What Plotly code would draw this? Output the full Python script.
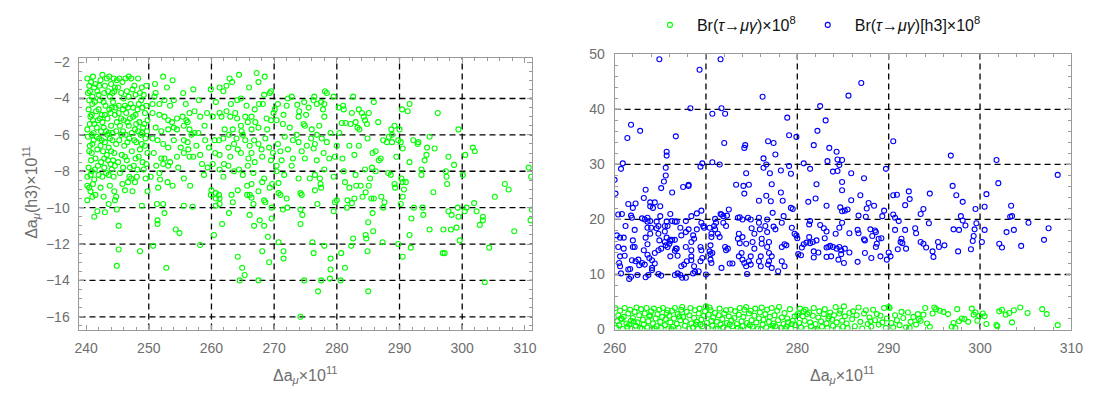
import plotly.graph_objects as go

# ---------------- data ----------------
# Left panel: Delta a_mu x 1e11  vs  Delta a_mu(h3) x 1e11
left_pts_a = [
    (240.2,-2.9),(240.5,-3.3),(240.8,-3.1),(241.1,-2.8),(241.5,-3.2),(241.8,-3.6),(242.3,-3.0),(242.6,-2.7),
    (243.0,-3.3),(243.3,-2.9),(243.7,-2.8),(244.0,-3.2),(244.4,-2.9),(244.6,-3.4),(244.9,-3.0),(240.3,-3.7),
    (241.0,-3.9),(242.0,-3.8),(242.9,-3.7),(243.8,-3.9),(244.5,-3.6),
    (240.4,-4.6),(240.7,-5.0),(241.0,-4.3),(241.3,-5.4),(241.6,-4.7),(241.9,-5.2),(242.2,-4.1),(242.5,-4.9),
    (242.8,-5.6),(243.1,-4.4),(243.4,-5.1),(243.7,-4.6),(244.0,-5.5),(244.3,-4.2),(244.6,-4.9),(244.9,-5.3),
    (240.2,-5.7),(241.2,-5.9),(242.4,-5.8),(243.6,-5.9),(244.8,-5.8),(240.9,-4.9),(242.0,-4.6),(243.9,-4.8),
    (240.3,-6.1),(240.6,-6.6),(240.9,-7.0),(241.2,-6.3),(241.5,-7.3),(241.8,-6.8),(242.1,-6.2),(242.4,-7.5),
    (242.7,-6.9),(243.0,-6.4),(243.3,-7.1),(243.6,-6.7),(243.9,-7.6),(244.2,-6.3),(244.5,-7.0),(244.8,-6.5),
    (240.4,-7.8),(241.4,-7.9),(242.9,-7.8),(244.1,-7.9),(240.8,-7.4),(242.3,-6.6),(243.8,-6.2),(244.6,-7.7),
    (240.2,-8.3),(240.9,-8.0),(242.0,-8.2),(243.2,-8.1),(244.4,-8.3),(241.3,-8.45),
    (245.3,-2.9),(245.8,-3.1),(246.3,-2.9),(246.8,-2.8),(247.2,-2.9),(247.7,-3.3),(248.3,-2.9),(245.6,-3.7),
    (246.5,-3.6),(247.4,-3.5),(248.6,-3.7),(249.2,-3.8),(249.6,-3.3),
    (245.2,-4.4),(245.6,-5.1),(246.0,-4.0),(246.4,-4.8),(246.8,-5.5),(247.1,-4.3),(247.5,-5.0),(247.8,-5.7),
    (248.2,-4.6),(248.5,-5.3),(248.8,-4.1),(249.1,-5.6),(249.4,-4.8),(249.8,-5.2),(245.9,-5.8),(246.6,-5.3),
    (247.3,-5.9),(248.0,-5.4),(248.9,-5.9),(249.6,-4.4),(245.4,-5.5),(246.2,-4.4),(247.9,-4.9),(249.3,-5.4),
    (245.3,-6.3),(245.7,-7.1),(246.1,-6.6),(246.5,-7.4),(246.9,-6.2),(247.3,-6.9),(247.6,-7.7),(248.0,-6.4),
    (248.4,-7.2),(248.7,-6.0),(249.0,-7.5),(249.4,-6.6),(249.8,-7.0),(245.9,-7.8),(247.0,-7.8),(248.2,-7.9),
    (249.2,-7.9),(246.3,-6.0),(245.4,-8.1),(246.9,-8.3),(249.5,-8.4),
    (240.6,-3.6),(241.3,-3.4),(242.1,-3.3),(242.8,-4.2),(243.5,-3.6),(244.2,-3.7),(240.5,-4.1),(241.4,-4.2),
    (241.7,-5.6),(242.6,-5.3),(243.2,-5.8),(243.0,-4.9),(244.1,-4.5),(244.7,-4.5),(240.6,-5.4),(241.1,-5.2),
    (240.5,-6.9),(241.0,-6.5),(241.7,-6.1),(242.5,-6.3),(242.9,-7.3),(243.5,-7.4),(244.0,-6.9),(244.3,-7.4),
    (241.9,-7.7),(240.7,-8.2),(242.6,-8.3),(243.6,-8.2),(245.1,-3.4),(245.9,-4.6),(246.7,-4.5),(247.5,-4.5),
    (248.4,-4.3),(249.0,-4.5),(246.0,-5.2),(247.0,-5.1),(248.3,-5.8),(249.7,-5.8),(245.6,-6.0),(246.6,-6.4),
    (247.7,-6.3),(248.9,-6.5),(249.5,-6.2),(246.2,-7.2),(247.9,-7.3),(248.6,-6.8),(249.6,-7.6),(245.1,-7.5),
    (248.1,-8.3),(247.2,-8.4),(246.8,-3.9),(247.9,-3.8),(245.2,-4.8),(248.9,-3.4),(244.2,-5.9),(242.2,-5.1),
    (240.9,-6.0),(243.4,-6.0),
]
left_pts_b = [
    (251.0,-3.2),(252.3,-2.8),(251.1,-3.7),(252.5,-4.1),(252.9,-3.4),(254.0,-4.1),(255.5,-3.7),(257.1,-3.5),
    (250.6,-4.3),(251.7,-4.3),(253.4,-4.4),
    (250.6,-4.8),(251.7,-4.9),(252.5,-5.0),(253.1,-5.2),(253.7,-5.3),(254.5,-5.1),(255.4,-5.0),(256.0,-5.2),
    (256.5,-4.8),(257.3,-4.7),(258.2,-5.0),(254.5,-5.7),(255.6,-5.5),(256.5,-5.7),(254.0,-5.6),(253.1,-5.7),
    (251.1,-5.6),(252.0,-5.8),(259.3,-4.8),(256.2,-5.3),
    (250.6,-6.2),(251.4,-6.3),(252.3,-6.5),(253.1,-6.7),(254.0,-6.3),(255.6,-6.3),(256.2,-6.4),(256.8,-6.0),
    (257.3,-5.9),(255.1,-6.7),(256.3,-6.8),(257.9,-5.9),
    (250.8,-7.0),(252.0,-7.3),(252.3,-7.6),(253.4,-7.5),(254.5,-7.2),(255.6,-7.0),(256.5,-7.2),(257.1,-7.2),
    (253.1,-7.7),(258.5,-7.6),(252.5,-7.3),(259.0,-6.3),
    (250.3,-8.3),(251.7,-8.1),(251.8,-8.45),(255.6,-8.4),(258.8,-8.2),
    (262.9,-2.9),(264.4,-2.7),(261.3,-3.4),(261.9,-3.6),(262.4,-3.3),(263.3,-3.1),(264.1,-4.1),(264.7,-4.0),
    (260.7,-4.2),(259.9,-3.5),(267.2,-2.6),(267.5,-3.1),(268.5,-2.8),(268.4,-3.8),(269.3,-3.7),(269.5,-3.6),
    (260.2,-5.0),(261.3,-4.8),(261.6,-5.0),(262.4,-4.7),(263.0,-5.0),(263.8,-4.8),(264.1,-5.1),(264.7,-5.5),
    (265.4,-5.0),(265.8,-5.3),(266.4,-5.0),(266.9,-4.6),(267.6,-4.3),(268.2,-4.3),(268.8,-5.1),(269.5,-5.2),
    (269.9,-4.8),(262.1,-5.7),(263.4,-5.7),(264.8,-5.8),(266.4,-5.7),(267.5,-5.6),(268.9,-5.7),
    (260.5,-6.3),(261.2,-6.3),(261.9,-6.2),(262.7,-6.7),(263.6,-6.5),(264.2,-6.8),(265.0,-6.0),(265.4,-6.3),
    (266.1,-6.6),(266.8,-6.3),(267.5,-6.5),(268.0,-6.8),(268.6,-6.2),(269.2,-6.7),(269.8,-7.0),(261.3,-7.1),
    (263.0,-7.2),(264.7,-7.0),(266.4,-7.0),(268.1,-7.2),(269.5,-7.4),(260.6,-7.0),
    (260.2,-7.6),(261.3,-7.9),(261.9,-8.3),(262.7,-7.7),(263.6,-8.0),(264.4,-7.9),(265.0,-8.2),(265.8,-7.7),
    (266.7,-8.1),(268.4,-8.4),
    (250.9,-3.9),(253.8,-3.0),(255.9,-4.3),(258.0,-4.1),(258.9,-5.5),(259.6,-6.7),(257.6,-6.6),(254.7,-7.8),
    (251.2,-7.7),(258.2,-7.1),(259.4,-7.8),(265.6,-4.4),(263.1,-4.3),(266.0,-3.4),(262.0,-7.6),(266.9,-7.5),
    (265.9,-7.3),(267.0,-5.3),(264.0,-6.2),(262.8,-6.0),
]
left_pts_c = [
    (272.2,-4.0),(272.8,-3.9),(272.0,-4.4),(273.7,-4.35),(270.1,-4.6),(270.6,-4.3),(274.8,-4.2),(276.3,-4.1),
    (276.8,-4.3),(277.5,-4.2),(278.0,-4.3),(275.5,-4.5),(276.4,-3.9),(275.1,-4.9),(277.8,-4.6),(278.0,-5.0),
    (279.5,-3.9),(280.3,-4.5),(281.0,-4.4),(278.1,-3.6),(278.4,-3.7),
    (270.4,-5.2),(271.4,-5.4),(272.5,-5.6),(273.9,-5.0),(273.6,-6.0),(274.7,-5.4),(274.9,-5.5),(276.0,-5.7),
    (276.8,-6.0),(275.9,-6.2),(277.6,-6.2),(278.4,-6.4),(276.5,-6.5),(273.9,-6.4),(273.0,-6.3),(271.7,-6.1),
    (270.6,-6.5),(272.2,-6.8),(274.4,-6.9),(276.3,-6.75),(277.9,-7.0),(274.9,-7.3),(273.0,-7.3),(271.2,-7.4),
    (270.4,-7.7),(276.8,-7.4),(278.8,-7.3),(279.7,-7.2),
    (270.4,-8.0),(271.6,-8.2),(273.9,-8.4),(275.7,-8.4),(276.5,-8.2),(277.3,-8.4),(281.1,-8.0),(285.3,-8.4),
    (286.2,-8.0),
    (281.1,-4.6),(281.4,-5.35),(282.2,-5.4),(283.0,-5.3),(283.3,-5.6),(283.6,-5.7),(284.3,-5.0),(284.5,-5.2),
    (284.8,-5.4),(285.1,-4.8),(284.0,-4.8),(283.5,-4.6),(282.4,-4.8),(280.8,-5.35),(286.6,-5.3),(287.4,-6.3),
    (288.3,-6.1),(288.8,-6.0),(288.0,-6.4),(288.8,-6.4),(289.2,-5.5),(288.7,-5.7),(286.2,-6.9),(287.0,-7.3),
    (286.7,-7.4),(288.6,-8.2),(288.2,-8.1),(285.6,-7.8),
    (271.0,-6.9),(272.8,-7.7),(275.2,-6.6),(277.2,-5.5),(279.0,-5.9),(280.0,-6.6),(280.9,-7.3),(282.0,-6.6),
    (282.8,-7.1),(283.5,-6.6),(284.5,-7.9),(283.0,-8.2),(284.9,-6.2),(285.7,-7.0),(279.5,-8.3),(278.0,-7.9),
    (271.5,-4.9),(274.0,-4.7),(282.6,-3.9),(285.9,-4.2),(289.5,-7.2),(280.4,-5.9),
    (290.4,-4.6),(291.3,-4.7),(291.6,-4.3),(290.2,-6.4),(290.5,-6.75),(291.6,-7.5),(290.3,-8.4),(290.0,-5.7),
    (289.8,-6.3),
]
left_pts_d = [
    (296.1,-4.8),(294.8,-6.1),(299.4,-5.7),(292.2,-6.3),(293.0,-6.4),(292.9,-6.5),(294.4,-6.7),(295.6,-6.75),
    (294.3,-7.1),(294.0,-7.4),(297.8,-7.2),(300.5,-7.1),(301.7,-6.7),(302.0,-6.9),(298.7,-7.65),(293.5,-7.9),
    (293.5,-8.2),(297.4,-8.0),(297.5,-8.3),(300.1,-8.2),(310.6,-7.8),(311.0,-8.3),
]
left_pts_e = [
    (240.2,-8.8),(240.7,-9.1),(240.2,-9.6),(241.0,-9.4),(241.5,-9.3),(241.8,-10.2),(243.0,-10.25),(241.3,-10.5),
    (243.6,-9.8),(244.6,-9.6),(244.9,-10.1),(245.2,-11.0),(245.2,-12.3),(244.9,-13.2),(248.6,-12.4),(244.8,-9.4),
    (244.5,-9.1),(243.8,-8.8),(246.2,-9.05),(248.9,-9.9),(249.8,-9.1),(246.7,-8.6),(247.8,-8.6),(251.3,-9.8),
    (252.3,-9.8),(251.4,-10.7),(251.4,-10.9),(252.5,-10.3),(251.5,-8.9),(253.0,-8.6),(253.8,-8.8),(256.6,-8.8),
    (255.6,-9.9),(257.0,-9.95),(254.3,-11.2),(254.9,-11.4),(250.7,-12.1),(252.8,-13.3),(258.2,-12.05),(260.4,-11.5),
    (259.9,-9.3),(260.0,-9.05),(260.7,-9.2),(261.2,-9.3),(261.3,-9.5),(260.7,-9.5),(260.7,-9.9),(261.3,-9.8),
    (261.7,-10.9),(262.8,-10.3),(263.2,-9.3),(263.4,-9.7),(264.2,-9.05),(265.7,-8.8),(266.4,-8.7),(265.7,-9.3),
    (266.1,-9.3),(266.4,-9.45),(266.7,-9.8),(268.4,-9.6),(268.6,-9.7),(267.5,-9.1),(268.1,-8.6),(269.3,-8.9),
    (269.7,-8.7),(269.6,-10.0),(266.1,-10.4),(266.8,-11.0),(267.7,-10.7),(268.4,-11.0),(269.0,-11.6),(269.6,-10.6),
    (264.2,-12.7),(264.9,-13.3),(265.3,-13.7),(264.5,-14.0),(267.5,-14.0),(268.1,-12.4),(269.2,-13.0),(270.7,-11.9),
    (270.7,-9.2),(270.7,-8.65),(271.0,-9.3),(272.0,-9.5),(272.1,-10.0),(271.4,-10.1),(271.5,-12.4),(271.5,-12.8),
    (274.2,-10.9),(274.2,-10.1),(274.5,-10.4),(274.2,-9.2),(274.4,-9.3),(274.2,-16.0),(274.8,-14.0),
    (242.3,-8.9),(242.8,-9.4),(240.5,-8.9),(247.4,-9.1),(245.8,-8.7),(241.1,-8.7),
    (277.4,-8.7),(277.5,-8.9),(276.5,-9.05),(276.9,-9.8),(279.7,-9.7),(280.0,-9.6),(279.5,-10.2),(281.3,-8.6),
    (282.0,-8.9),(283.1,-8.8),(283.8,-8.8),(285.1,-8.8),(284.6,-9.15),(284.1,-9.4),(285.5,-9.5),(285.9,-9.5),
    (282.8,-9.5),(281.7,-9.6),(281.6,-10.0),(282.4,-9.75),(287.1,-9.4),(287.6,-9.7),(287.4,-10.0),(285.7,-10.3),
    (289.2,-8.7),(289.3,-8.9),(290.5,-8.6),(291.0,-8.6),(290.7,-9.0),(290.5,-9.4),(290.2,-9.8),(295.4,-9.15),
    (297.6,-8.7),(292.3,-10.0),(293.7,-10.0),(293.8,-10.4),(291.9,-10.6),(294.8,-11.2),(297.0,-11.2),(298.2,-11.2),
    (299.1,-11.1),(297.8,-10.2),(298.3,-10.4),(299.4,-10.5),(299.3,-10.0),(300.4,-10.2),(300.7,-10.0),(301.9,-9.75),
    (302.3,-10.2),(303.3,-10.5),(303.3,-10.7),(302.8,-10.95),(305.2,-9.4),(306.8,-8.7),(307.4,-9.0),(308.3,-11.3),
    (310.9,-10.7),(311.1,-10.1),(299.6,-11.8),(304.3,-12.2),(303.6,-14.1),(291.6,-11.5),(291.8,-12.2),(290.5,-12.7),
    (296.9,-12.5),(297.2,-12.5),(289.8,-12.0),(284.7,-11.7),(284.6,-11.5),(285.0,-10.8),(285.8,-11.3),(282.6,-11.7),
    (282.3,-12.1),(280.7,-12.5),(281.3,-13.3),(279.0,-12.8),(279.0,-13.4),(278.9,-13.9),(277.5,-14.0),(277.0,-14.6),
    (280.6,-14.0),(285.0,-14.6),(278.0,-12.1),(276.3,-12.5),(276.1,-11.9),(284.9,-12.4),(287.3,-11.9),
]

# Right panel, blue: Br(tau->mu gamma)[h3] x 1e8
blue_pts_high = [
    (264.9,49.1),(271.6,49.1),(269.3,47.2),(287.0,44.8),(276.2,42.3),(285.6,42.5),(282.5,40.6),(268.3,40.2),
    (271.7,40.2),(270.7,39.2),(272.1,39.2),(278.9,38.5),(283.1,38.0),(261.8,37.2),(262.8,36.1),(261.4,34.8),
    (282.2,36.1),(279.1,35.3),(279.9,35.0),(266.7,35.1),(290.5,34.2),(272.0,33.9),(274.3,33.5),(274.2,33.0),
    (276.8,34.2),(277.4,33.9),(281.8,33.5),(283.5,33.0),(284.3,32.3),(265.7,32.3),(265.7,31.6),(277.6,31.8),
    (296.8,31.6),(276.3,31.1),(284.4,30.9),(284.9,30.8),(301.8,30.8),(283.3,30.6),(270.7,30.4),(269.6,30.2),
    (260.9,30.2),(271.5,30.0),(276.6,30.0),(280.7,30.2),(284.6,29.9),(279.1,29.7),(276.3,29.4),(260.7,29.2),
    (269.4,29.6),(281.4,29.2),(289.7,29.2),(265.6,29.4),(283.9,28.7),(279.3,28.3),(277.0,28.4),(278.2,28.9),
    (274.4,28.4),(265.6,28.0),(260.0,27.2),(265.4,26.9),(282.1,26.4),(268.1,26.3),(268.1,26.1),(267.5,25.9),
    (273.3,26.3),(274.1,26.1),(274.7,26.3),(277.2,26.4),(265.1,25.7),(263.4,25.4),(266.3,24.9),(278.2,24.9),
    (274.2,24.7),(260.1,24.7),(276.6,24.3),(282.0,23.8),(281.2,23.2),(275.8,23.4),(277.1,23.3),(278.4,23.4),
    (263.2,23.9),(263.9,23.1),(264.4,23.1),(261.5,22.8),(262.3,22.9),(265.0,22.4),(283.2,22.5),(279.3,22.1),
    (279.5,21.9),(269.5,21.6),(272.5,21.8),(263.9,22.4),(264.2,22.1),(262.0,22.1),(260.4,20.9),(261.8,20.7),
    (268.4,20.6),(277.3,21.2),(271.6,21.0),(272.3,20.7),
]
blue_pts_mid = [
    (260.8,21.0),(260.25,17.1),(260.6,16.7),(261.0,16.7),(260.4,15.0),(260.6,13.3),(260.5,12.1),(260.6,11.5),
    (260.7,10.2),(261.0,14.7),(261.1,13.4),(261.5,10.9),(261.7,11.0),(261.6,9.2),(261.8,9.6),(261.2,18.8),
    (261.9,20.3),(262.2,18.1),(262.0,16.2),(262.0,15.0),(262.2,15.0),(262.3,12.4),(261.9,12.6),(262.6,12.7),
    (262.7,11.7),(263.0,12.1),(262.5,9.9),(263.0,20.2),(263.3,20.0),(263.6,19.6),(263.6,20.3),(263.9,19.7),
    (264.0,18.5),(263.6,18.5),(263.9,17.4),(263.4,16.7),(263.6,15.5),(263.2,14.4),(263.6,13.6),(263.8,13.0),
    (264.1,12.6),(264.4,12.0),(263.3,11.8),(263.7,9.9),(263.4,9.5),(264.1,10.8),(264.1,11.2),(265.0,20.6),
    (264.6,19.6),(264.8,18.8),(264.6,18.4),(264.8,17.4),(264.9,16.2),(265.1,14.7),(264.8,14.4),(264.4,13.9),
    (264.8,10.1),(265.1,9.8),(265.7,19.6),(265.5,18.8),(265.8,18.8),(265.5,17.8),(265.7,16.7),(265.5,15.9),
    (265.6,15.3),(265.8,15.0),(266.0,15.6),(266.1,16.1),(266.1,16.3),(266.3,16.3),(266.6,16.3),(266.1,13.3),
    (266.7,14.7),(266.6,14.3),(266.8,14.7),(266.9,13.4),(266.3,19.7),(266.6,19.6),(266.8,19.6),(266.1,21.0),
    (266.9,10.2),(266.6,9.9),(267.2,9.9),(267.4,9.4),(267.8,9.4),(267.3,11.5),(267.6,11.8),(267.9,12.4),
    (267.8,15.0),(267.3,17.1),(267.8,17.7),(268.1,18.2),(267.2,18.5),(267.8,19.7),(269.0,18.2),(268.6,17.1),
    (268.7,16.5),(268.4,15.9),(268.4,14.4),(268.4,13.3),(268.4,12.6),(268.7,11.5),(268.8,10.5),(268.6,10.2),
    (269.2,10.6),(269.0,21.1),(269.5,19.4),(269.7,18.8),(269.8,18.5),(269.4,15.0),(269.5,14.4),(269.6,13.0),
    (269.4,12.4),(270.0,10.0),(270.4,18.5),(271.0,18.2),(270.6,17.4),(270.6,16.8),(270.5,15.3),(270.4,14.2),
    (270.5,13.7),(270.7,13.9),(270.5,12.7),(270.6,12.1),(271.1,19.4),(270.9,18.8),(271.0,20.1),(271.3,17.4),
    (271.5,16.8),(271.7,20.9),(271.9,20.6),(271.9,19.4),(271.7,11.2),(272.2,18.8),(272.1,15.0),(272.2,14.4),
    (272.4,14.7),(272.6,12.0),(272.9,12.0),(274.0,20.0),(273.7,20.4),(273.5,20.3),(273.6,17.4),(274.0,16.8),
    (273.5,16.5),(273.7,15.7),(274.4,15.6),(273.6,13.3),(273.9,13.9),(274.0,12.7),(274.2,12.1),(274.4,11.5),
    (274.5,10.1),(274.6,20.3),(274.9,20.0),(275.0,18.4),(275.3,17.4),(275.1,15.9),(275.3,14.7),(274.9,13.3),
    (274.7,12.4),(274.9,11.8),(275.8,20.3),(275.8,19.4),(275.9,18.2),(276.1,16.5),(276.1,15.6),(276.0,13.3),
    (275.8,12.4),(276.0,11.5),(276.7,20.0),(276.5,18.8),(276.7,17.7),(276.9,15.9),(276.7,15.0),(276.9,13.9),
    (276.9,12.4),(276.8,11.8),(277.2,11.2),(277.2,13.3),(277.4,18.7),(277.6,18.2),(278.3,19.4),(278.5,20.6),
    (278.3,15.0),(278.6,15.5),(278.3,12.4),(278.6,11.5),(277.9,10.6),(278.8,15.3),(279.4,18.5),(279.7,17.4),
    (279.9,17.1),(280.1,13.7),(280.4,13.5),
    (280.0,16.6),(280.5,14.9),(280.7,15.5),(281.0,15.8),(281.4,15.7),(281.7,15.9),(282.1,16.2),(281.3,16.8),
    (281.8,14.2),(281.8,13.1),(282.3,14.0),(281.3,19.1),(281.4,19.7),(282.5,19.0),(282.9,18.4),(283.2,17.8),
    (283.0,16.6),(283.2,14.9),(283.4,15.0),(283.6,15.2),(283.9,15.0),(283.7,13.3),(283.2,13.2),
]
blue_pts_right = [
    (284.4,28.8),(285.9,28.4),(284.9,26.8),(284.9,25.3),(287.3,27.5),(286.9,24.4),(285.9,23.5),(284.7,22.2),
    (284.9,21.5),(285.2,21.6),(285.5,21.8),(287.8,23.0),(288.4,22.5),(287.6,22.0),(286.7,20.7),(287.5,20.5),
    (289.3,20.6),(289.5,21.6),(284.9,19.4),(284.6,18.5),(284.2,17.4),(285.7,17.5),(286.6,18.1),(286.7,17.5),
    (287.3,16.4),(287.4,16.2),(288.0,18.2),(288.5,18.0),(288.6,17.7),(288.2,17.0),(288.9,16.5),(289.2,16.6),
    (288.7,15.6),(288.6,15.0),(284.6,15.0),(284.3,14.7),(284.8,14.4),(285.2,14.7),(285.7,14.0),(284.8,13.7),
    (284.5,12.7),(285.1,12.1),(286.6,12.3),(287.4,13.9),(288.1,13.0),(289.1,13.3),(289.8,12.7),(290.2,13.3),
    (290.0,14.0),(290.5,20.9),(290.7,20.3),(291.1,19.7),(290.5,24.4),(290.9,24.5),(292.2,25.1),(292.3,23.7),
    (291.8,22.6),(290.7,18.1),(291.8,18.1),(291.0,14.6),(291.5,15.7),(291.3,15.9),(291.4,16.5),(291.9,14.7),
    (292.9,18.4),(293.0,17.5),(293.5,21.0),(293.8,21.9),(294.5,24.7),(294.4,19.3),(293.5,15.9),(293.8,15.6),
    (294.1,14.9),(294.8,14.2),(294.9,13.2),(295.4,15.9),(295.5,15.0),(296.1,15.3),(297.0,26.1),(297.4,24.4),
    (298.1,23.2),(297.1,18.2),(297.7,18.1),(297.6,14.2),(297.9,20.6),(298.1,19.8),(298.4,18.9),(299.0,14.6),
    (299.2,16.1),(299.3,17.0),(299.4,18.2),(299.5,21.9),(299.6,19.3),(300.2,15.9),(300.5,22.3),(300.7,24.6),
    (300.5,18.1),(302.0,26.6),(302.1,15.6),(302.4,14.9),(302.9,17.7),(303.4,22.5),(303.3,20.5),(303.5,20.6),
    (303.7,18.1),(304.5,15.2),(305.3,19.4),(307.0,16.3),(307.5,18.4),(308.5,28.1),
]

# Right panel, green: Br(tau->mu gamma) x 1e8
green_pts = [
    (260.2,0.3),(260.3,1.5),(260.4,2.6),(260.5,0.8),(260.6,3.4),(260.8,1.9),(260.9,0.1),(261.0,2.3),(261.1,3.9),
    (261.3,1.1),(261.4,0.5),(261.5,2.9),(261.7,3.6),(261.8,1.6),(261.9,0.2),(262.0,2.1),(262.2,3.2),(262.3,0.7),
    (262.4,4.0),(262.5,1.3),(262.7,2.6),(262.8,0.3),(262.9,3.7),(263.1,1.8),(263.2,0.9),(263.3,2.9),(263.5,3.9),
    (263.6,0.4),(263.7,1.5),(263.8,2.4),(264.0,3.3),(264.1,0.1),(264.2,1.1),(264.3,3.8),(264.5,2.0),(264.6,0.6),
    (264.7,2.8),(264.9,3.6),(265.0,1.4),(265.1,0.3),(260.1,3.9),(261.6,0.9),(263.0,0.2),(264.4,0.2),(262.1,1.4),
    (260.7,2.0),(263.9,2.6),
    (265.2,2.3),(265.3,3.9),(265.5,0.8),(265.6,1.9),(265.7,3.0),(265.9,0.2),(266.0,2.5),(266.1,1.3),(266.3,3.4),
    (266.4,0.5),(266.5,2.0),(266.6,3.9),(266.8,1.0),(266.9,2.8),(267.0,0.3),(267.2,1.7),(267.3,3.6),(267.4,4.1),
    (267.5,2.3),(267.7,0.7),(267.8,1.5),(267.9,3.2),(268.1,0.1),(268.2,2.6),(268.3,3.9),(268.4,1.1),(268.6,0.4),
    (268.7,2.1),(268.8,3.5),(269.0,1.4),(269.1,0.2),(269.2,2.9),(269.3,3.8),(269.5,1.8),(269.6,0.6),(269.8,2.5),
    (269.9,3.3),(270.0,4.2),(266.2,0.1),(267.1,2.4),(268.9,0.9),(265.8,3.5),(269.4,0.9),
    (270.1,1.2),(270.2,0.3),(270.3,2.7),(270.5,3.5),(270.6,1.6),(270.7,0.7),(270.8,2.2),(271.0,3.0),(271.1,0.2),
    (271.2,1.4),(271.4,2.6),(271.5,3.8),(271.6,0.9),(271.8,1.9),(271.9,0.4),(272.0,2.9),(272.2,3.5),(272.3,1.2),
    (272.4,0.1),(272.5,2.4),(272.7,3.6),(272.8,1.7),(272.9,0.6),(273.1,2.1),(273.2,3.3),(273.4,1.0),(273.5,0.3),
    (273.6,2.7),(273.7,3.9),(273.9,1.5),(274.0,0.6),(274.1,2.3),(274.2,3.6),(274.4,4.1),(274.5,1.2),(274.6,0.2),
    (274.7,2.9),(274.9,3.4),(275.0,1.7),(270.4,4.0),(271.3,0.1),(272.6,0.9),(273.8,0.0),(274.8,0.8),
    (275.1,0.5),(275.3,2.5),(275.4,3.8),(275.5,1.3),(275.7,0.2),(275.8,2.0),(275.9,3.1),(276.1,4.0),(276.2,0.9),
    (276.3,1.8),(276.5,2.8),(276.6,0.4),(276.7,3.6),(276.9,1.4),(277.0,2.3),(277.1,0.1),(277.2,3.9),(277.4,1.1),
    (277.5,2.6),(277.6,0.6),(277.8,3.4),(277.9,1.7),(278.0,4.1),(278.2,0.3),(278.3,2.2),(278.5,1.0),(278.6,3.0),
    (278.8,0.5),(278.9,2.0),(279.0,1.3),(279.2,3.7),(279.3,0.2),(279.5,1.6),(279.7,2.4),(279.8,0.8),(280.0,2.6),
    (280.1,2.9),(276.0,0.0),(277.3,0.7),(278.7,0.1),(279.4,1.0),
    (280.2,1.2),(280.3,3.8),(280.4,0.4),(280.6,2.4),(280.7,3.3),(280.8,1.6),(281.0,0.2),(281.1,2.8),(281.3,3.1),
    (281.4,1.3),(281.5,0.6),(281.7,2.5),(281.8,3.9),(282.0,1.0),(282.1,0.1),(282.3,2.2),(282.4,3.3),(282.6,1.5),
    (282.7,0.5),(282.9,2.8),(283.0,3.7),(283.2,1.1),(283.3,0.3),(283.5,2.4),(283.6,3.1),(283.8,1.8),(283.9,0.7),
    (284.0,2.6),(284.2,4.1),(284.3,1.3),(284.4,0.2),(284.6,2.9),(284.7,3.4),(284.9,1.6),(285.0,0.5),(285.1,4.2),
    (281.9,0.0),(283.4,2.0),(280.9,3.6),
    (285.2,2.4),(285.4,1.1),(285.5,0.3),(285.7,3.0),(286.0,1.9),(286.3,0.6),(286.5,2.6),(286.7,4.0),(286.9,1.4),
    (287.1,0.2),(287.3,2.9),(287.5,3.5),(287.7,1.0),(287.9,2.2),(288.1,0.5),(288.3,3.6),(288.5,1.7),(288.7,2.8),
    (288.9,0.9),(289.1,2.5),(289.3,1.3),(289.5,3.9),(289.7,0.3),(289.8,2.0),(290.0,4.1),(290.1,3.9),(286.1,3.3),
    (288.0,1.5),
    (290.3,1.2),(290.5,0.4),(290.7,2.6),(290.9,1.7),(291.2,0.8),(291.4,3.2),(291.6,2.1),(291.9,0.4),(292.1,3.1),
    (292.4,1.4),(292.7,2.3),(293.0,0.9),(293.2,2.8),(293.5,1.6),(293.8,2.7),(294.0,3.9),(294.2,1.1),(294.5,0.5),
    (294.8,2.9),(295.0,4.0),(295.2,3.7),(292.3,0.3),(293.3,1.9),
    (295.6,3.4),(296.0,3.2),(296.5,2.8),(296.9,0.5),(297.1,1.2),(297.5,3.7),(297.7,1.5),(298.0,2.0),(298.3,1.9),
    (298.7,1.4),(299.1,3.8),(299.3,2.7),(299.5,3.1),(299.7,1.6),(299.9,2.5),(300.3,2.9),(300.5,2.4),(300.7,1.0),
    (301.8,0.8),(301.9,0.6),(302.1,3.3),(302.4,3.6),(302.8,2.7),(303.2,3.0),(303.5,1.3),(303.7,3.5),(304.4,4.0),
    (305.2,3.0),(306.8,3.7),(307.3,2.8),(308.5,0.8),(297.3,0.3),
]

# tick / grid values
left_xticks = [240, 250, 260, 270, 280, 290, 300, 310]
left_yticks = [-2, -4, -6, -8, -10, -12, -14, -16]
right_xticks = [260, 270, 280, 290, 300, 310]
right_yticks = [0, 10, 20, 30, 40, 50]
left_grid_x = [250, 260, 270, 280, 290, 300]
left_grid_y = [-4, -6, -8, -10, -12, -14, -16]
right_grid_x = [270, 280, 290, 300]
right_grid_y = [10, 20, 30, 40]

series_names = ["Br(<i>τ</i>→<i>μγ</i>)×10<sup>8</sup>", "Br(<i>τ</i>→<i>μγ</i>)[h3]×10<sup>8</sup>"]

# ---------------- figure ----------------
GREEN = "rgb(0,255,0)"
BLUE = "rgb(0,0,255)"
FONT = "Liberation Sans, Arial, sans-serif"

left_pts = left_pts_a + left_pts_b + left_pts_c + left_pts_d + left_pts_e
blue_pts = blue_pts_high + blue_pts_mid + blue_pts_right

def xs(p):
    return [a for a, b in p]

def ys(p):
    return [b for a, b in p]

mk = lambda c: dict(symbol="circle-open", size=5, color=c, line=dict(width=1.1, color=c))

fig = go.Figure()
fig.add_trace(go.Scatter(x=xs(left_pts), y=ys(left_pts), mode="markers", marker=mk(GREEN),
                         showlegend=False, xaxis="x", yaxis="y"))
fig.add_trace(go.Scatter(x=xs(green_pts), y=ys(green_pts), mode="markers", marker=mk(GREEN),
                         name=series_names[0], xaxis="x2", yaxis="y2"))
fig.add_trace(go.Scatter(x=xs(blue_pts), y=ys(blue_pts), mode="markers", marker=mk(BLUE),
                         name=series_names[1], xaxis="x2", yaxis="y2"))

shapes = []
gl = dict(color="black", width=1.3, dash="6px,4px")
for v in left_grid_x:
    shapes.append(dict(type="line", xref="x", yref="y domain", x0=v, x1=v, y0=0, y1=1, line=gl, layer="below"))
for v in left_grid_y:
    shapes.append(dict(type="line", xref="x domain", yref="y", x0=0, x1=1, y0=v, y1=v, line=gl, layer="below"))
for v in right_grid_x:
    shapes.append(dict(type="line", xref="x2", yref="y2 domain", x0=v, x1=v, y0=0, y1=1, line=gl, layer="below"))
for v in right_grid_y:
    shapes.append(dict(type="line", xref="x2 domain", yref="y2", x0=0, x1=1, y0=v, y1=v, line=gl, layer="below"))

W, H = 1102, 398
def ax(domain, rng, tickvals, minor_dtick, anchor, standoff):
    return dict(domain=domain, range=rng, tickvals=tickvals, anchor=anchor,
                showgrid=False, zeroline=False, showline=True, linecolor="#9a9a9a", linewidth=1,
                mirror="allticks", ticks="inside", ticklen=5, tickcolor="#9a9a9a", tickwidth=1,
                ticklabelstandoff=standoff,
                minor=dict(dtick=minor_dtick, ticks="inside", ticklen=3, tickcolor="#9a9a9a", showgrid=False),
                tickfont=dict(family=FONT, size=14, color="#6e6e6e"))

fig.update_layout(
    width=W, height=H, margin=dict(l=0, r=0, t=0, b=0),
    paper_bgcolor="white", plot_bgcolor="white",
    xaxis=ax([69 / W, 532 / W], [238.95, 311.2], left_xticks, 2, "y", 6),
    yaxis=ax([(H - 335) / H, (H - 52) / H], [-16.7, -1.77], left_yticks, 0.5, "x", 6),
    xaxis2=ax([616 / W, 1083 / W], [260, 310], right_xticks, 2, "y2", 6),
    yaxis2=ax([(H - 335) / H, (H - 48.3) / H], [0, 50], right_yticks, 2, "x2", 6),
    shapes=shapes,
    showlegend=True,
    legend=dict(orientation="h", x=645 / W, y=1.0, xanchor="left", yanchor="top",
                font=dict(family=FONT, size=16, color="#111"), bgcolor="rgba(0,0,0,0)",
                itemwidth=44),
    annotations=[
        dict(text="Δa<sub><i>μ</i></sub>×10<sup>11</sup>", xref="paper", yref="paper",
             x=300.5 / W, y=(H - 382) / H, showarrow=False, xanchor="center", yanchor="middle",
             font=dict(family=FONT, size=16, color="#6e6e6e")),
        dict(text="Δa<sub><i>μ</i></sub>×10<sup>11</sup>", xref="paper", yref="paper",
             x=849.5 / W, y=(H - 382) / H, showarrow=False, xanchor="center", yanchor="middle",
             font=dict(family=FONT, size=16, color="#6e6e6e")),
        dict(text="Δa<sub><i>μ</i></sub>(h3)×10<sup>11</sup>", xref="paper", yref="paper",
             x=20 / W, y=(H - 192) / H, showarrow=False, textangle=-90, xanchor="center", yanchor="middle",
             font=dict(family=FONT, size=16, color="#6e6e6e")),
    ],
)

fig.write_html("out.html")
